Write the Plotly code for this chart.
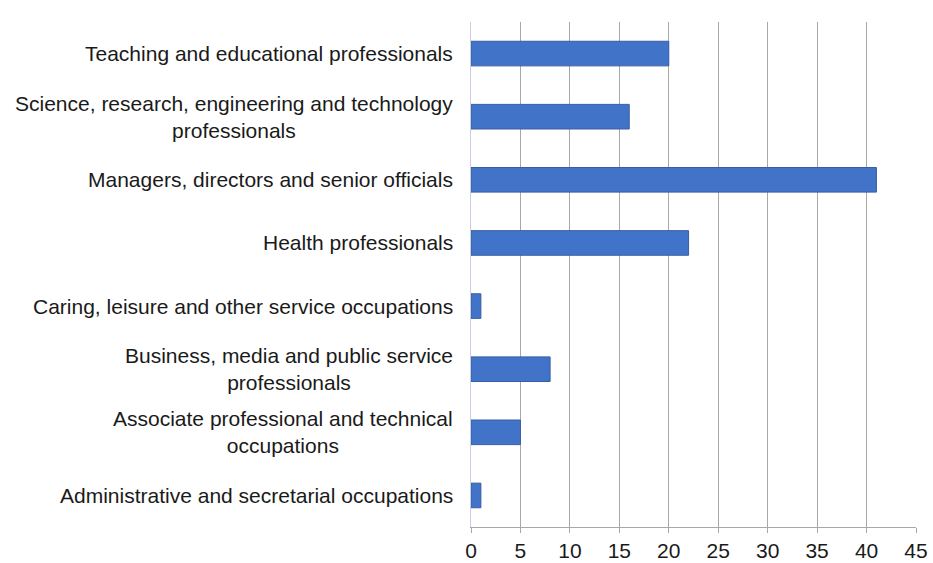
import plotly.graph_objects as go

# Occupation groups, listed top to bottom as drawn
occupations = [
    "Teaching and educational professionals",
    "Science, research, engineering and technology<br>professionals",
    "Managers, directors and senior officials",
    "Health professionals",
    "Caring, leisure and other service occupations",
    "Business, media and public service<br>professionals",
    "Associate professional and technical<br>occupations",
    "Administrative and secretarial occupations",
]
counts = [20, 16, 41, 22, 1, 8, 5, 1]
x_ticks = [0, 5, 10, 15, 20, 25, 30, 35, 40, 45]

FONT = "Liberation Sans, Arial, sans-serif"
FSIZE = 21

fig = go.Figure()
fig.add_trace(go.Bar(
    y=occupations,
    x=counts,
    orientation="h",
    marker=dict(color="#4174C8", line=dict(color="#3A5CA6", width=1)),
    width=0.39,
    hoverinfo="x+y",
))

# Category labels: right-aligned block, lines centred within it
for name in occupations:
    fig.add_annotation(
        x=0, xref="paper", xanchor="right", xshift=-16,
        y=name, yref="y", yanchor="middle",
        text=name, align="center", showarrow=False,
        font=dict(family=FONT, size=FSIZE, color="#1a1a1a"),
    )

fig.update_layout(
    width=933, height=563,
    margin=dict(l=471, r=17, t=22, b=36),
    paper_bgcolor="white",
    plot_bgcolor="white",
    showlegend=False,
    font=dict(family=FONT, size=FSIZE, color="#1a1a1a"),
)
fig.update_xaxes(
    range=[0, 45],
    tickvals=x_ticks,
    ticktext=[str(v) for v in x_ticks],
    showgrid=True, gridcolor="#a8a8a8", gridwidth=1,
    showline=True, linecolor="#a8a8a8", linewidth=1,
    ticks="outside", ticklen=5, tickcolor="#a8a8a8",
    zeroline=False,
    automargin=False,
    tickfont=dict(family=FONT, size=FSIZE, color="#1a1a1a"),
)
fig.update_yaxes(
    categoryorder="array",
    categoryarray=occupations[::-1],
    showticklabels=False,
    showgrid=False,
    showline=True, linecolor="#c8d0e0", linewidth=1,
    zeroline=False,
    automargin=False,
)

fig.write_html("out.html")
